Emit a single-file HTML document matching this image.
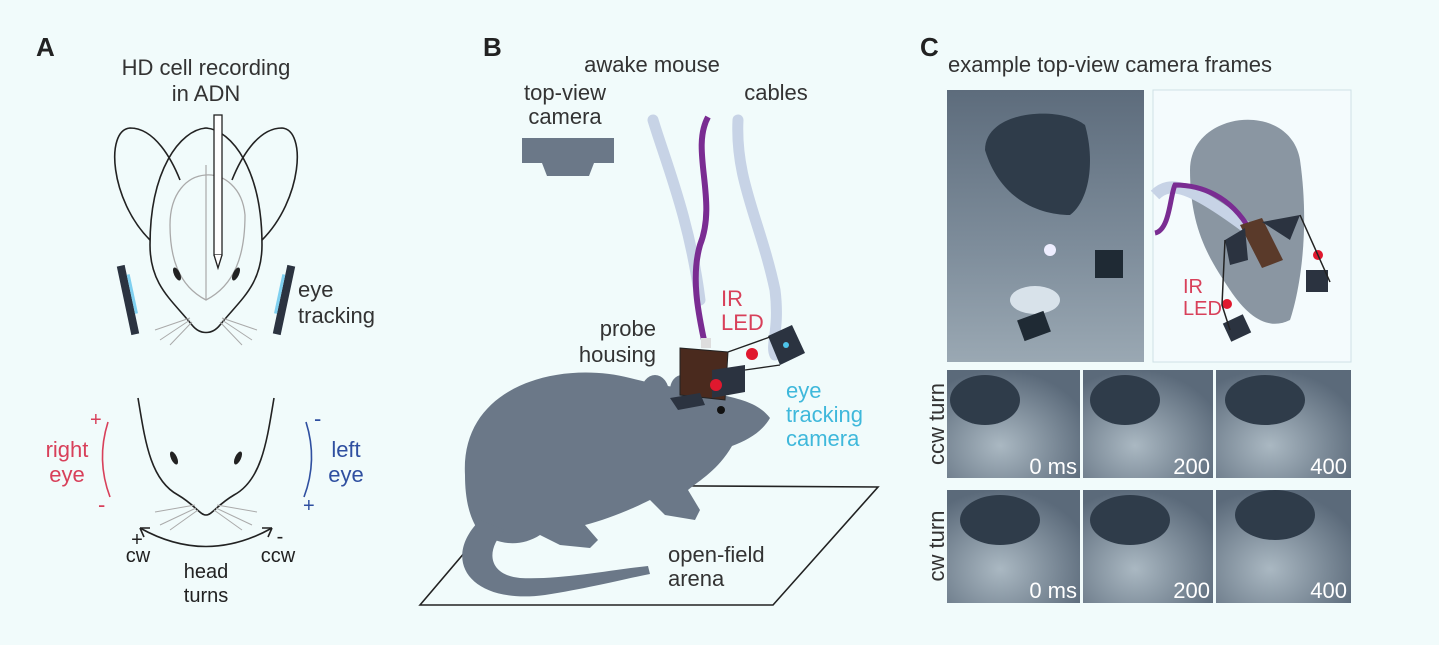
<!DOCTYPE html>
<html><head><meta charset="utf-8"><style>
html,body{margin:0;padding:0;background:#f1fbfb;}
svg{display:block;font-family:"Liberation Sans",sans-serif;}
</style></head><body>
<svg width="1439" height="645" viewBox="0 0 1439 645" xmlns="http://www.w3.org/2000/svg">
<defs>
<linearGradient id="ph" x1="0" y1="0" x2="0" y2="1"><stop offset="0" stop-color="#5d6c7c"/><stop offset="0.6" stop-color="#7f8e9c"/><stop offset="1" stop-color="#9aa8b3"/></linearGradient>
<radialGradient id="ph2" cx="40%" cy="70%" r="70%"><stop offset="0" stop-color="#aab8c2"/><stop offset="1" stop-color="#5b6a7a"/></radialGradient>
</defs>
<rect width="1439" height="645" fill="#f1fbfb"/>
<text x="36" y="56" font-size="26" font-weight="bold" fill="#222">A</text>
<text x="483" y="56" font-size="26" font-weight="bold" fill="#222">B</text>
<text x="920" y="56" font-size="26" font-weight="bold" fill="#222">C</text>

<!-- Panel A -->
<g fill="#333" font-size="22" text-anchor="middle">
<text x="206" y="75">HD cell recording</text>
<text x="206" y="101">in ADN</text>
</g>
<g fill="none" stroke="#222" stroke-width="1.6">
<path d="M150 240 C110 200,105 130,130 128 C155 128,172 160,180 180"/>
<path d="M262 240 C302 200,307 130,282 128 C257 128,240 160,232 180"/>
<path d="M150 245 C150 170,180 130,206 128 C232 130,262 170,262 245 C262 285,240 300,220 325 C212 335,200 335,192 325 C172 300,150 285,150 245Z"/>
</g>
<path d="M170 225 C170 160,240 160,245 215 C245 255,235 285,206 300 C177 285,170 255,170 225Z" fill="none" stroke="#aaa" stroke-width="1.3"/>
<line x1="206" y1="165" x2="206" y2="300" stroke="#aaa" stroke-width="1.2"/>
<rect x="214" y="115" width="8" height="140" fill="#fff" stroke="#222" stroke-width="1.3"/>
<path d="M214 255 L218 268 L222 255" fill="#fff" stroke="#222" stroke-width="1.3"/>
<ellipse cx="177" cy="274" rx="3" ry="7" fill="#222" transform="rotate(-25 177 274)"/>
<ellipse cx="236" cy="274" rx="3" ry="7" fill="#222" transform="rotate(25 236 274)"/>
<rect x="124" y="265" width="8" height="70" fill="#2b3340" transform="rotate(-12 128 300)"/>
<rect x="132" y="275" width="3" height="40" fill="#7fd0f0" transform="rotate(-12 128 300)"/>
<rect x="280" y="265" width="8" height="70" fill="#2b3340" transform="rotate(12 284 300)"/>
<rect x="277" y="275" width="3" height="40" fill="#7fd0f0" transform="rotate(12 284 300)"/>
<g stroke="#aaa" stroke-width="1"><path d="M190 318 L155 330 M190 320 L160 340 M192 322 L170 345 M222 318 L257 330 M222 320 L252 340 M220 322 L242 345"/></g>
<g fill="#333" font-size="22"><text x="298" y="297">eye</text><text x="298" y="323">tracking</text></g>

<g fill="none" stroke="#222" stroke-width="1.6">
<path d="M138 398 C145 440,150 480,178 495 C195 505,200 515,206 515 C212 515,217 505,234 495 C262 480,267 440,274 398"/>
</g>
<ellipse cx="174" cy="458" rx="3" ry="7" fill="#222" transform="rotate(-25 174 458)"/>
<ellipse cx="238" cy="458" rx="3" ry="7" fill="#222" transform="rotate(25 238 458)"/>
<g stroke="#aaa" stroke-width="1"><path d="M195 505 L155 512 M196 508 L160 525 M198 510 L170 530 M217 505 L257 512 M216 508 L252 525 M214 510 L242 530"/></g>
<path d="M140 528 Q206 565 272 528" fill="none" stroke="#222" stroke-width="1.6"/>
<path d="M140 528 l10 0 M140 528 l4 9 M272 528 l-10 0 M272 528 l-4 9" stroke="#222" stroke-width="1.6"/>
<g fill="#222" font-size="20" text-anchor="middle"><text x="137" y="546">+</text><text x="138" y="562">cw</text><text x="280" y="543">-</text><text x="278" y="562">ccw</text>
<text x="206" y="578">head</text><text x="206" y="602">turns</text></g>
<path d="M108 422 Q96 460 110 497" fill="none" stroke="#d8405a" stroke-width="1.6"/>
<text x="90" y="426" font-size="20" fill="#d8405a">+</text><text x="98" y="512" font-size="22" fill="#d8405a">-</text>
<g fill="#d8405a" font-size="22" text-anchor="middle"><text x="67" y="457">right</text><text x="67" y="482">eye</text></g>
<path d="M306 422 Q318 460 304 497" fill="none" stroke="#2f4fa0" stroke-width="1.6"/>
<text x="314" y="426" font-size="22" fill="#2f4fa0">-</text><text x="303" y="512" font-size="20" fill="#2f4fa0">+</text>
<g fill="#2f4fa0" font-size="22" text-anchor="middle"><text x="346" y="457">left</text><text x="346" y="482">eye</text></g>

<!-- Panel B -->
<g fill="#333" font-size="22" text-anchor="middle">
<text x="652" y="72">awake mouse</text>
<text x="565" y="100">top-view</text><text x="565" y="124">camera</text>
<text x="776" y="100">cables</text>
</g>
<rect x="522" y="138" width="92" height="25" fill="#6b7888"/>
<path d="M542 163 L594 163 L589 176 L547 176Z" fill="#6b7888"/>
<path d="M653 120 C665 160,690 220,700 300" fill="none" stroke="#c7d3e6" stroke-width="11" stroke-linecap="round"/>
<path d="M738 120 C735 180,760 220,775 290 C780 330,770 345,775 355" fill="none" stroke="#c7d3e6" stroke-width="11" stroke-linecap="round"/>
<path d="M708 117 C690 150,718 200,700 245 C690 280,700 320,705 345" fill="none" stroke="#7a2c92" stroke-width="6"/>
<path d="M420 605 L522 485 L878 487 L773 605Z" fill="none" stroke="#222" stroke-width="1.6"/>
<g fill="#6b7888">
<path d="M465 475 C460 385,560 360,630 378 C675 390,700 388,722 395 C745 400,760 405,770 418 C762 432,748 440,732 446 C718 470,700 480,688 490 L700 510 L695 520 L665 515 L650 500 C630 510,605 520,585 525 L598 540 L590 548 L560 545 L540 535 C520 548,495 545,478 530 C468 515,465 495,465 475Z"/>
<path d="M480 520 C440 560,470 605,545 595 C590 588,620 580,650 574 L648 566 C610 570,560 580,520 578 C488 575,485 550,505 530Z"/>
<ellipse cx="655" cy="393" rx="14" ry="18"/>
<ellipse cx="682" cy="390" rx="12" ry="15"/>
</g>
<circle cx="721" cy="410" r="4" fill="#111"/>
<path d="M680 348 L728 352 L725 400 L680 395Z" fill="#4a2a1e" stroke="#222" stroke-width="1"/>
<rect x="701" y="338" width="10" height="10" fill="#ddd"/>
<path d="M712 370 L745 365 L745 392 L712 398Z" fill="#2b3340"/>
<path d="M670 398 L700 393 L705 405 L678 410Z" fill="#2b3340"/>
<circle cx="716" cy="385" r="6" fill="#e0182e"/>
<circle cx="752" cy="354" r="6" fill="#e0182e"/>
<path d="M768 336 L792 325 L805 353 L780 365Z" fill="#2b3340"/>
<circle cx="786" cy="345" r="3" fill="#4ec3e8"/>
<line x1="728" y1="352" x2="770" y2="337" stroke="#222" stroke-width="1.3"/>
<line x1="745" y1="370" x2="780" y2="365" stroke="#222" stroke-width="1.3"/>
<g fill="#333" font-size="22" text-anchor="end"><text x="656" y="336">probe</text><text x="656" y="362">housing</text></g>
<g fill="#d8405a" font-size="22"><text x="721" y="306">IR</text><text x="721" y="330">LED</text></g>
<g fill="#3fb8db" font-size="22"><text x="786" y="398">eye</text><text x="786" y="422">tracking</text><text x="786" y="446">camera</text></g>
<g fill="#333" font-size="22"><text x="668" y="562">open-field</text><text x="668" y="586">arena</text></g>

<!-- Panel C -->
<text x="948" y="72" font-size="22" fill="#333">example top-view camera frames</text>
<rect x="947" y="90" width="197" height="272" fill="url(#ph)"/>
<path d="M985 150 C985 110,1060 105,1085 125 C1095 160,1090 200,1070 215 C1040 215,1000 200,985 150Z" fill="#2f3c4a"/>
<rect x="1095" y="250" width="28" height="28" fill="#1f2a34"/>
<circle cx="1050" cy="250" r="6" fill="#eef"/>
<ellipse cx="1035" cy="300" rx="25" ry="14" fill="#d8e2ea"/>
<rect x="1020" y="315" width="28" height="22" fill="#1f2a34" transform="rotate(-20 1034 326)"/>
<rect x="1153" y="90" width="198" height="272" fill="#f4fbfd" stroke="#cfe0e6"/>
<path d="M1190 170 C1190 110,1290 100,1300 160 C1310 230,1300 290,1290 320 C1270 330,1250 320,1230 290 C1210 260,1190 230,1190 170Z" fill="#8a96a2"/>
<path d="M1155 195 C1170 180,1190 185,1250 230" fill="none" stroke="#c7d3e6" stroke-width="12"/>
<path d="M1155 233 C1170 230,1170 195,1175 185 C1200 185,1230 195,1250 230" fill="none" stroke="#7a2c92" stroke-width="5"/>
<path d="M1240 225 L1262 218 L1283 260 L1262 268Z" fill="#5a3a2a"/>
<path d="M1225 240 L1245 228 L1248 260 L1230 265Z M1262 222 L1300 215 L1290 240Z" fill="#2b3340"/>
<rect x="1306" y="270" width="22" height="22" fill="#2b3340"/>
<rect x="1226" y="318" width="22" height="20" fill="#2b3340" transform="rotate(-25 1237 328)"/>
<circle cx="1318" cy="255" r="5" fill="#e0182e"/><circle cx="1227" cy="304" r="5" fill="#e0182e"/>
<path d="M1225 240 L1222 305 L1230 330 M1300 215 L1330 282" fill="none" stroke="#222" stroke-width="1.5"/>
<g fill="#d8405a" font-size="20"><text x="1183" y="293">IR</text><text x="1183" y="315">LED</text></g>

<g font-size="22" fill="#fff" text-anchor="end">
<rect x="947" y="370" width="133" height="108" fill="url(#ph2)"/>
<rect x="1083" y="370" width="130" height="108" fill="url(#ph2)"/>
<rect x="1216" y="370" width="135" height="108" fill="url(#ph2)"/>
<rect x="947" y="490" width="133" height="113" fill="url(#ph2)"/>
<rect x="1083" y="490" width="130" height="113" fill="url(#ph2)"/>
<rect x="1216" y="490" width="135" height="113" fill="url(#ph2)"/>
<ellipse cx="985" cy="400" rx="35" ry="25" fill="#2f3c4a"/>
<ellipse cx="1125" cy="400" rx="35" ry="25" fill="#2f3c4a"/>
<ellipse cx="1265" cy="400" rx="40" ry="25" fill="#2f3c4a"/>
<ellipse cx="1000" cy="520" rx="40" ry="25" fill="#2f3c4a"/>
<ellipse cx="1130" cy="520" rx="40" ry="25" fill="#2f3c4a"/>
<ellipse cx="1275" cy="515" rx="40" ry="25" fill="#2f3c4a"/>
<text x="1077" y="474">0 ms</text><text x="1210" y="474">200</text><text x="1347" y="474">400</text>
<text x="1077" y="598">0 ms</text><text x="1210" y="598">200</text><text x="1347" y="598">400</text>
</g>
<g fill="#333" font-size="22" text-anchor="middle">
<text transform="translate(944 424) rotate(-90)">ccw turn</text>
<text transform="translate(944 546) rotate(-90)">cw turn</text>
</g>
</svg>
</body></html>
